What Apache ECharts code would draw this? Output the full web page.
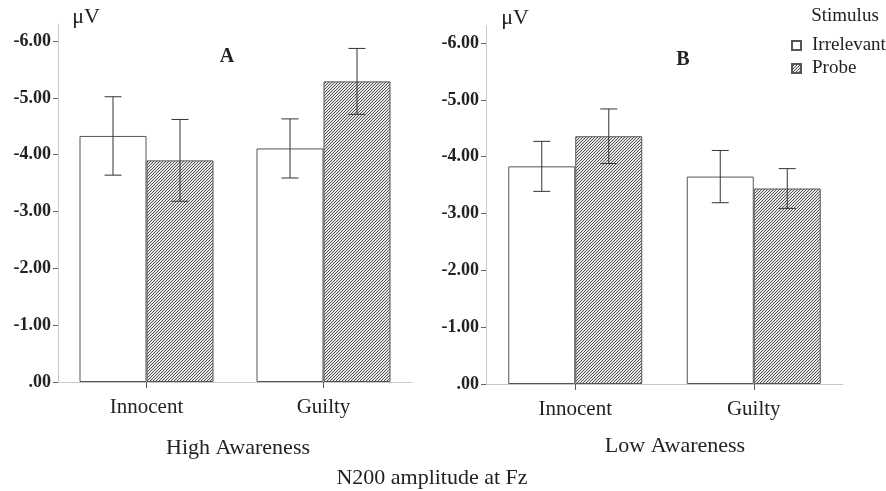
<!DOCTYPE html>
<html>
<head>
<meta charset="utf-8">
<script src="https://cdn.jsdelivr.net/npm/echarts@6/dist/echarts.min.js"></script>
<style>
    html, body { margin: 0; padding: 0; background: #fff; }
    #chart { width: 886px; height: 491px; }
</style>
</head>
<body>
<div id="chart"></div>
<script>
// values in µV (negative amplitudes)
const categories = ["Innocent", "Guilty"];
const highIrrelevant = [-4.33, -4.11];
const highIrrelevantErr = [0.69, 0.52];
const highProbe = [-3.90, -5.29];
const highProbeErr = [0.72, 0.58];
const lowIrrelevant = [-3.83, -3.65];
const lowIrrelevantErr = [0.44, 0.46];
const lowProbe = [-4.36, -3.44];
const lowProbeErr = [0.48, 0.35];
const yTicks = [0, -1, -2, -3, -4, -5, -6];

const font = "'Liberation Serif', 'Times New Roman', serif";
const barW = 67;

// diagonal hatch for the probe bars
let hatch = document.createElement("canvas");
hatch.width = 3;
hatch.height = 3;
let hctx = hatch.getContext("2d");
hctx.fillStyle = "#e6e6e6";
hctx.fillRect(0, 0, 3, 3);
hctx.fillStyle = "#555555";
hctx.fillRect(2, 0, 1, 1);
hctx.fillRect(1, 1, 1, 1);
hctx.fillRect(0, 2, 1, 1);
const hatchFill = {image: hatch, repeat: "repeat"};

function xAxisOpt(gridIndex) {
    return {
        type: "category",
        gridIndex: gridIndex,
        data: categories,
        axisLine: {lineStyle: {color: "#c8c8c8", width: 1}},
        axisTick: {show: true, alignWithLabel: true, length: 6, lineStyle: {color: "#555"}},
        axisLabel: {color: "#222", fontFamily: font, fontSize: 21, margin: 15},
        splitLine: {show: false},
    };
}

function yAxisOpt(gridIndex) {
    return {
        type: "value",
        gridIndex: gridIndex,
        inverse: true,
        min: -6.3,
        max: 0,
        axisLine: {show: true, lineStyle: {color: "#c8c8c8", width: 1}},
        axisTick: {show: true, length: 5, customValues: yTicks, lineStyle: {color: "#666"}},
        axisLabel: {
            customValues: yTicks,
            color: "#222",
            fontFamily: font,
            fontSize: 18,
            fontWeight: "bold",
            margin: 7,
            formatter: v => v === 0 ? ".00" : v.toFixed(2),
        },
        splitLine: {show: false},
    };
}

function barSeries(name, gridIndex, data, fill) {
    return {
        name: name,
        type: "bar",
        xAxisIndex: gridIndex,
        yAxisIndex: gridIndex,
        data: data,
        barWidth: barW,
        barGap: "0%",
        itemStyle: {color: fill, borderColor: "#555", borderWidth: 1},
        emphasis: {disabled: true},
    };
}

function errSeries(gridIndex, means, errs, side) {
    return {
        name: "err",
        type: "custom",
        xAxisIndex: gridIndex,
        yAxisIndex: gridIndex,
        z: 5,
        data: means.map((m, i) => [i, m, errs[i]]),
        renderItem: (params, api) => {
            let i = api.value(0), m = api.value(1), e = api.value(2);
            let top = api.coord([i, m - e]);
            let bot = api.coord([i, m + e]);
            let x = top[0] + side * barW / 2;
            let half = 8.5;
            let style = {stroke: "#333", lineWidth: 1};
            return {
                type: "group",
                children: [
                    {type: "line", shape: {x1: x, y1: top[1], x2: x, y2: bot[1]}, style: style},
                    {type: "line", shape: {x1: x - half, y1: top[1], x2: x + half, y2: top[1]}, style: style},
                    {type: "line", shape: {x1: x - half, y1: bot[1], x2: x + half, y2: bot[1]}, style: style},
                ],
            };
        },
    };
}

function txt(x, y, text, size, weight) {
    return {
        type: "text",
        x: x,
        y: y,
        style: {
            text: text,
            fill: "#222",
            fontFamily: font,
            fontSize: size,
            fontWeight: weight || "normal",
            align: "center",
            verticalAlign: "middle",
        },
    };
}

let options = {
    animation: false,
    backgroundColor: "#fff",
    grid: [
        {left: 58, top: 24, width: 354, height: 358},
        {left: 486, top: 26, width: 357, height: 358},
    ],
    xAxis: [xAxisOpt(0), xAxisOpt(1)],
    yAxis: [yAxisOpt(0), yAxisOpt(1)],
    legend: {
        data: ["Irrelevant", "Probe"],
        orient: "vertical",
        left: 786,
        top: 31,
        icon: "rect",
        itemWidth: 9,
        itemHeight: 9,
        itemGap: 4,
        selectedMode: false,
        textStyle: {color: "#222", fontFamily: font, fontSize: 19, padding: [0, 0, 0, 6]},
    },
    graphic: [
        txt(86, 17, "μV", 22),
        txt(515, 18, "μV", 22),
        txt(227, 57, "A", 20, "bold"),
        txt(683, 60, "B", 20, "bold"),
        txt(845, 16, "Stimulus", 19),
        txt(238, 448, "High Awareness", 22),
        txt(675, 446, "Low Awareness", 22),
        txt(432, 478, "N200 amplitude at Fz", 22),
    ],
    series: [
        barSeries("Irrelevant", 0, highIrrelevant, "#fff"),
        barSeries("Probe", 0, highProbe, hatchFill),
        barSeries("Irrelevant", 1, lowIrrelevant, "#fff"),
        barSeries("Probe", 1, lowProbe, hatchFill),
        errSeries(0, highIrrelevant, highIrrelevantErr, -1),
        errSeries(0, highProbe, highProbeErr, 1),
        errSeries(1, lowIrrelevant, lowIrrelevantErr, -1),
        errSeries(1, lowProbe, lowProbeErr, 1),
    ],
};

let chart = echarts.init(document.getElementById("chart"));
chart.setOption(options);
</script>
</body>
</html>
